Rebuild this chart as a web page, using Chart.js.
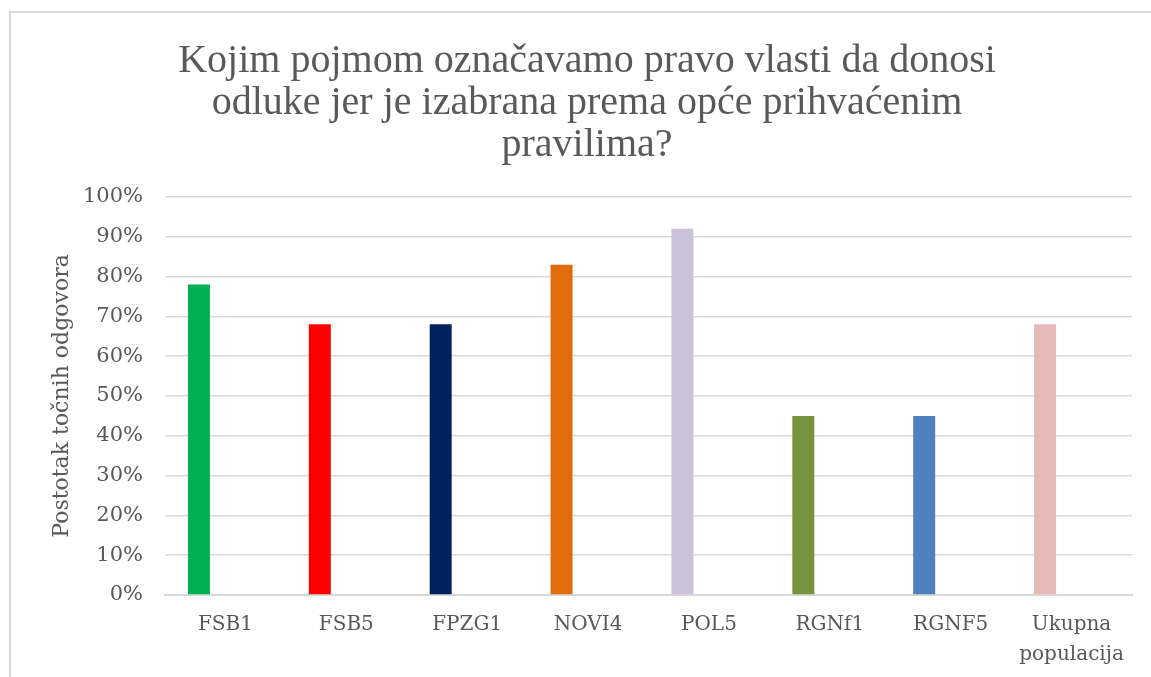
<!DOCTYPE html>
<html>
<head>
<meta charset="utf-8">
<script src="https://cdn.jsdelivr.net/npm/chart.js@4/dist/chart.umd.min.js"></script>
<style>
  body { margin: 0; background: #fff; }
  #wrap { position: relative; width: 1151px; height: 677px; overflow: hidden; }
  #frame { position: absolute; left: 9px; top: 11px; width: 1200px; height: 700px;
           border-left: 2px solid #d9d9d9; border-top: 2px solid #d9d9d9; }
  canvas { position: absolute; left: 0; top: 0; }
</style>
</head>
<body>
<div id="wrap">
  <div id="frame"></div>
  <canvas id="chart" width="1151" height="677"></canvas>
</div>
<script>
// categories and values
const groups = ["FSB1", "FSB5", "FPZG1", "NOVI4", "POL5", "RGNf1", "RGNF5", ["Ukupna", "populacija"]];
const correctShare = [78, 68, 68, 83, 92, 45, 45, 68];
const emptySeries = [null, null, null, null, null, null, null, null];
const barColors = ["#00B050", "#FF0000", "#002060", "#E36C0A", "#CCC0DA", "#77933C", "#4F81BD", "#E6B9B8"];
const yTicks = [0, 10, 20, 30, 40, 50, 60, 70, 80, 90, 100];

const titleLines = [
    "Kojim pojmom označavamo pravo vlasti da donosi",
    "odluke jer je izabrana prema opće prihvaćenim",
    "pravilima?"
];

const textColor = "#595959";
const gridColor = "#d9d9d9";

document.addEventListener("DOMContentLoaded", function () {
    const ctx = document.getElementById("chart").getContext("2d");

    new Chart(ctx, {
        type: "bar",
        data: {
            labels: groups,
            datasets: [
                {
                    label: "Točni odgovori",
                    data: correctShare,
                    backgroundColor: barColors,
                    barPercentage: 0.415,
                    categoryPercentage: 0.877
                },
                {
                    label: "",
                    data: emptySeries,
                    backgroundColor: "rgba(0,0,0,0)",
                    barPercentage: 0.415,
                    categoryPercentage: 0.877
                }
            ]
        },
        options: {
            responsive: false,
            animation: false,
            layout: { padding: { left: 42, right: 19, top: 0, bottom: 0 } },
            plugins: {
                legend: { display: false },
                tooltip: { enabled: false },
                title: {
                    display: true,
                    text: titleLines,
                    color: textColor,
                    font: { family: "Liberation Serif", size: 40, weight: "normal", lineHeight: 1.05 },
                    padding: { top: 40, bottom: 31 }
                }
            },
            scales: {
                x: {
                    grid: { display: false, drawTicks: false },
                    border: { display: true, color: gridColor, width: 2 },
                    ticks: {
                        color: textColor,
                        font: { family: "DejaVu Serif", size: 20, lineHeight: 1.5 },
                        padding: 15,
                        maxRotation: 0,
                        autoSkip: false
                    },
                    afterFit: function (scale) { scale.height = 82; }
                },
                y: {
                    min: 0,
                    max: 100,
                    afterBuildTicks: function (scale) {
                        scale.ticks = yTicks.map(v => ({ value: v }));
                    },
                    grid: { color: gridColor, lineWidth: 1.5, drawTicks: false },
                    border: { display: false },
                    ticks: {
                        color: textColor,
                        font: { family: "DejaVu Serif", size: 21 },
                        padding: 22,
                        callback: v => v + "%"
                    },
                    title: {
                        display: true,
                        text: "Postotak točnih odgovora",
                        color: textColor,
                        font: { family: "DejaVu Serif", size: 22 },
                        padding: { top: 7, bottom: 0 }
                    },
                    afterFit: function (scale) { scale.width = 123; }
                }
            }
        }
    });
});
</script>
</body>
</html>
